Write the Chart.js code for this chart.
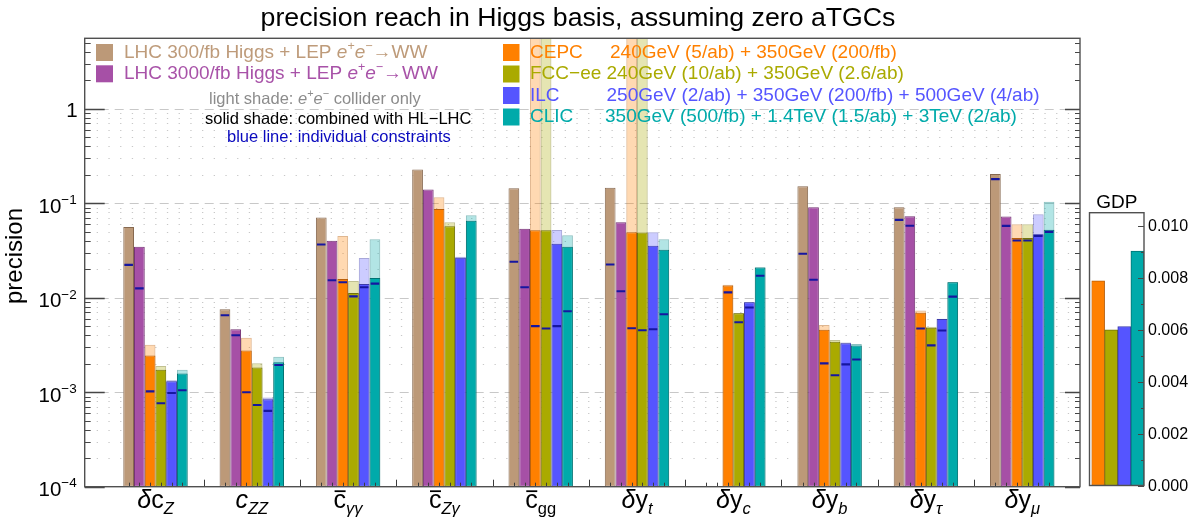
<!DOCTYPE html>
<html>
<head>
<meta charset="utf-8">
<script src="https://cdn.jsdelivr.net/npm/chart.js@4.4.1/dist/chart.umd.min.js"></script>
<style>
  html, body { margin: 0; padding: 0; background: #fff; }
  #wrap { position: relative; width: 1199px; height: 527px; overflow: hidden; }
  canvas { position: absolute; top: 0; }
  #main { left: 0; }
  #gdp { left: 1080px; }
</style>
</head>
<body>
<div id="wrap">
  <canvas id="main" width="1199" height="527"></canvas>
  <canvas id="gdp" width="119" height="527"></canvas>
</div>
<script>
// ---- data -------------------------------------------------------------
const categories = ['δcZ', 'cZZ', 'c̄γγ', 'c̄Zγ', 'c̄gg', 'δyt', 'δyc', 'δyb', 'δyτ', 'δyμ'];

// combined precision (solid shade); LHC-only rows have no e+e- part
const lhc300  = [0.0562, 0.00755, 0.0705, 0.228, 0.144, 0.146, null, 0.151, 0.0907, 0.204];
const lhc3000 = [0.0346, 0.00464, 0.0400, 0.140, 0.0536, 0.0630, null, 0.0907, 0.0729, 0.0722];
const cepc    = [0.00245, 0.00277, 0.0158, 0.0871, 0.0519, 0.0494, 0.0135, 0.00457, 0.00692, 0.0428];
const fccee   = [0.00173, 0.00183, 0.01124, 0.0572, 0.0517, 0.0490, 0.00685, 0.00342, 0.00480, 0.0428];
const ilc     = [0.00131, 0.000841, 0.0140, 0.0265, 0.0372, 0.0355, 0.00895, 0.00330, 0.00597, 0.0471];
const clic    = [0.00158, 0.00207, 0.0162, 0.0651, 0.0346, 0.0322, 0.0209, 0.00313, 0.01455, 0.0523];

// e+e- collider only (light shade); 10 = beyond the top of the axis
const cepcOnly  = [0.00318, 0.00377, 0.0449, 0.1156, 10, 10, 0.0137, 0.00516, 0.00731, 0.0600];
const fcceeOnly = [0.00189, 0.00203, 0.01504, 0.0630, 10, 10, 0.0069, 0.00356, 0.00492, 0.0600];
const ilcOnly   = [0.00134, 0.000877, 0.0263, 0.0272, 0.0520, 0.0494, 0.0090, 0.00335, 0.0060, 0.0765];
const clicOnly  = [0.00173, 0.00237, 0.0417, 0.0747, 0.0459, 0.0417, 0.0210, 0.00323, 0.0147, 0.104];

// individual constraints (blue lines)
const ind300  = [0.0223, 0.00653, 0.0366, null, 0.0240, 0.0225, null, 0.0292, 0.0667, 0.180];
const ind3000 = [0.01256, 0.00401, 0.0153, null, 0.0129, 0.0117, null, 0.0155, 0.0577, 0.0576];
const indCepc = [0.00102, 0.00100, 0.0146, null, 0.0050, 0.00476, 0.0114, 0.00202, 0.00472, 0.0403];
const indFcc  = [0.000764, 0.000733, 0.01035, null, 0.00472, 0.00453, 0.0055, 0.00151, 0.00313, 0.0403];
const indIlc  = [0.00098, 0.000634, 0.0129, null, 0.0050, 0.00464, 0.00787, 0.00197, 0.0045, 0.0452];
const indClic = [0.00105, 0.00194, 0.0141, null, 0.0072, 0.00668, 0.0171, 0.00222, 0.01028, 0.0498];

// global determinant parameter
const gdpLabels = ['CEPC', 'FCC-ee', 'ILC', 'CLIC'];
const gdpValues = [0.00788, 0.00599, 0.00612, 0.00902];

const yDecades = [-4, -3, -2, -1, 0];
const gdpTicks = [0, 0.002, 0.004, 0.006, 0.008, 0.010];

// ---- styling ----------------------------------------------------------
const FONT = '"Liberation Sans", Arial, Helvetica, sans-serif';
const CAT_PCT = 0.6687;
const LINE_BLUE = 'rgb(22,22,160)';

const series = [
  { stack: 's0', solid: lhc300,  ind: ind300,  fill: 'rgb(188,153,120)', edge: 'rgb(135,105,80)' },
  { stack: 's1', solid: lhc3000, ind: ind3000, fill: 'rgb(166,80,166)',  edge: 'rgb(115,50,115)' },
  { stack: 's2', solid: cepc,  only: cepcOnly,  ind: indCepc, fill: 'rgb(255,128,0)',  edge: 'rgb(185,95,10)',  light: 'rgba(255,128,0,0.3)', lightEdge: 'rgba(185,95,10,0.45)' },
  { stack: 's3', solid: fccee, only: fcceeOnly, ind: indFcc,  fill: 'rgb(170,170,0)',  edge: 'rgb(115,115,10)', light: 'rgba(170,170,0,0.3)', lightEdge: 'rgba(115,115,10,0.45)' },
  { stack: 's4', solid: ilc,   only: ilcOnly,   ind: indIlc,  fill: 'rgb(85,85,255)',  edge: 'rgb(60,60,170)',  light: 'rgba(85,85,255,0.3)', lightEdge: 'rgba(60,60,170,0.45)' },
  { stack: 's5', solid: clic,  only: clicOnly,  ind: indClic, fill: 'rgb(0,170,170)',  edge: 'rgb(0,115,115)',  light: 'rgba(0,170,170,0.3)', lightEdge: 'rgba(0,115,115,0.45)' }
];

const points = arr => arr.map((v, i) => ({ x: i, y: v }));
// a thin floating bar around each individual constraint value
const marker = arr => arr.map((v, i) => ({ x: i, y: v == null ? null : [v / 1.026, v * 1.026] }));

const datasets = [];
// blue lines first so they are painted last (on top)
series.forEach(s => datasets.push({
  data: marker(s.ind), stack: s.stack, backgroundColor: LINE_BLUE, borderWidth: 0,
  barPercentage: 0.8, categoryPercentage: CAT_PCT
}));
series.forEach(s => datasets.push({
  data: points(s.solid), stack: s.stack, backgroundColor: s.fill, borderColor: s.edge,
  borderWidth: 1, borderSkipped: false, barPercentage: 1, categoryPercentage: CAT_PCT
}));
series.filter(s => s.only).forEach(s => datasets.push({
  data: points(s.only), stack: s.stack, backgroundColor: s.light, borderColor: s.lightEdge,
  borderWidth: 1, borderSkipped: false, barPercentage: 1, categoryPercentage: CAT_PCT, clip: 0
}));

// ---- rich text helper (italic, super/subscripts, overbar) ------------
function partFont(size, p) {
  const st = p[1] || '';
  const small = /sup|sub/.test(st);
  const s = small ? size * 0.66 : size;
  return { font: (st.includes('i') ? 'italic ' : '') + s.toFixed(1) + 'px ' + FONT, size: s };
}
function drawRich(ctx, x, y, parts, size, color, align) {
  let total = 0;
  const widths = parts.map(p => { ctx.font = partFont(size, p).font; const w = ctx.measureText(p[0]).width; total += w; return w; });
  if (align === 'center') x -= total / 2;
  else if (align === 'right') x -= total;
  ctx.fillStyle = color;
  ctx.strokeStyle = color;
  ctx.textAlign = 'left';
  ctx.textBaseline = 'alphabetic';
  parts.forEach((p, k) => {
    const st = p[1] || '';
    ctx.font = partFont(size, p).font;
    let dy = 0;
    if (st.includes('sup')) dy = -size * 0.42;
    if (st.includes('sub')) dy = size * 0.24;
    ctx.fillText(p[0], x, y + dy);
    if (st.includes('bar')) {
      ctx.lineWidth = Math.max(1.2, size * 0.07);
      ctx.beginPath();
      const by = y - size * 0.66;
      ctx.moveTo(x + 1, by); ctx.lineTo(x + widths[k] - 0.5, by);
      ctx.stroke();
    }
    x += widths[k];
  });
  return total;
}

const xLabelParts = [
  [['δ', 'i'], ['c'], ['Z', 'isub']],
  [['c', 'i'], ['ZZ', 'isub']],
  [['c', 'bar'], ['γγ', 'isub']],
  [['c', 'bar'], ['Zγ', 'isub']],
  [['c', 'bar'], ['gg', 'sub']],
  [['δ', 'i'], ['y'], ['t', 'isub']],
  [['δ', 'i'], ['y'], ['c', 'isub']],
  [['δ', 'i'], ['y'], ['b', 'isub']],
  [['δ', 'i'], ['y'], ['τ', 'isub']],
  [['δ', 'i'], ['y'], ['μ', 'isub']]
];
const EE = [['e', 'i'], ['+', 'sup'], ['e', 'i'], ['−', 'sup']];

const mainDecor = {
  id: 'mainDecor',
  beforeDatasetsDraw(chart) {
    const { ctx, chartArea: a, scales: { y } } = chart;
    ctx.save();
    ctx.lineWidth = 1;
    // dotted minor grid
    ctx.strokeStyle = 'rgb(200,200,200)';
    ctx.setLineDash([1.3, 10.4]);
    for (let k = -4; k <= -1; k++) {
      for (let m = 2; m <= 9; m++) {
        const py = Math.round(y.getPixelForValue(m * Math.pow(10, k))) + 0.5;
        ctx.beginPath(); ctx.moveTo(a.left + 12, py); ctx.lineTo(a.right, py); ctx.stroke();
      }
    }
    // dashed decade grid
    ctx.strokeStyle = 'rgb(200,200,200)';
    ctx.setLineDash([9, 6]);
    yDecades.slice(1).forEach(k => {
      const py = Math.round(y.getPixelForValue(Math.pow(10, k))) + 0.5;
      ctx.beginPath(); ctx.moveTo(a.left, py); ctx.lineTo(a.right, py); ctx.stroke();
    });
    ctx.restore();
  },
  afterDatasetsDraw(chart) {
    const { ctx, chartArea: a, scales: { x, y } } = chart;
    ctx.save();
    ctx.strokeStyle = 'rgb(70,70,70)';
    ctx.lineWidth = 1;
    // ticks on left and right axes
    const yMax = y.max;
    for (let k = -4; k <= 0; k++) {
      for (let m = 1; m <= 9; m++) {
        const v = m * Math.pow(10, k);
        if (v > yMax) break;
        const py = Math.round(y.getPixelForValue(v)) + 0.5;
        const major = m === 1;
        ctx.lineWidth = major ? 1.6 : 1;
        ctx.beginPath();
        ctx.moveTo(a.left, py); ctx.lineTo(a.left + (major ? 20 : 6), py);
        ctx.moveTo(a.right, py); ctx.lineTo(a.right - (major ? 15 : 5), py);
        ctx.stroke();
      }
    }
    // ticks on bottom axis: category boundaries and bar slots
    ctx.lineWidth = 1;
    ctx.strokeStyle = 'rgb(60,60,60)';
    for (let i = 0; i < categories.length; i++) {
      if (i < categories.length - 1) {
        const px = Math.round(x.getPixelForValue(i + 0.5)) + 0.5;
        ctx.beginPath(); ctx.moveTo(px, a.bottom); ctx.lineTo(px, a.bottom - 7); ctx.stroke();
      }
      for (let s = 0; s < 6; s++) {
        const px = Math.round(x.getPixelForValue(i + (s - 2.5) * CAT_PCT / 6)) + 0.5;
        ctx.beginPath(); ctx.moveTo(px, a.bottom); ctx.lineTo(px, a.bottom - 4); ctx.stroke();
      }
    }
    // frame
    ctx.strokeStyle = 'rgb(80,80,80)';
    ctx.lineWidth = 1.4;
    ctx.strokeRect(a.left, a.top, a.right - a.left, a.bottom - a.top);

    // y tick labels
    yDecades.forEach(k => {
      const py = y.getPixelForValue(Math.pow(10, k));
      if (k === 0) drawRich(ctx, a.left - 7, py + 8.5, [['1']], 20.5, '#000', 'right');
      else drawRich(ctx, a.left - 8, py + 9.4, [['10'], ['−' + (-k), 'sup']], 20.5, '#000', 'right');
    });
    // y axis title
    ctx.save();
    ctx.translate(22, 256);
    ctx.rotate(-Math.PI / 2);
    ctx.font = '24px ' + FONT;
    ctx.fillStyle = '#000';
    ctx.textAlign = 'center';
    ctx.fillText('precision', 0, 0);
    ctx.restore();

    // category labels
    xLabelParts.forEach((parts, i) => {
      drawRich(ctx, x.getPixelForValue(i), a.bottom + 21, parts, 25, '#000', 'center');
    });

    // title
    ctx.font = '26.7px ' + FONT;
    ctx.fillStyle = '#000';
    ctx.textAlign = 'center';
    ctx.fillText('precision reach in Higgs basis, assuming zero aTGCs', 578, 26);

    // legend: LHC rows
    const lhcRows = [
      { txt: 'LHC 300/fb Higgs + LEP ', c: 'rgb(190,155,122)', sq: series[0].fill },
      { txt: 'LHC 3000/fb Higgs + LEP ', c: 'rgb(168,82,168)', sq: series[1].fill }
    ];
    lhcRows.forEach((r, k) => {
      const top = 44 + k * 21.3;
      ctx.fillStyle = r.sq; ctx.fillRect(96, top, 17, 17);
      drawRich(ctx, 124, top + 13.6, [[r.txt]].concat(EE, [['→WW']]), 19, r.c, 'left');
    });
    // legend: explanation of shades
    drawRich(ctx, 209, 104, [['light shade: ']].concat(EE, [[' collider only']]), 16.5, 'rgb(140,140,140)', 'left');
    drawRich(ctx, 205, 124, [['solid shade: combined with HL−LHC']], 16.5, '#000', 'left');
    drawRich(ctx, 227, 142, [['blue line: individual constraints']], 16.5, 'rgb(10,10,190)', 'left');
    // legend: future colliders
    const eeRows = [
      { name: 'CEPC',   desc: '240GeV (5/ab) + 350GeV (200/fb)', dx: 610, c: 'rgb(255,128,0)' },
      { name: 'FCC−ee', desc: '240GeV (10/ab) + 350GeV (2.6/ab)', dx: 606.5, c: 'rgb(170,170,0)' },
      { name: 'ILC',    desc: '250GeV (2/ab) + 350GeV (200/fb) + 500GeV (4/ab)', dx: 606.5, c: 'rgb(85,85,255)' },
      { name: 'CLIC',   desc: '350GeV (500/fb) + 1.4TeV (1.5/ab) + 3TeV (2/ab)', dx: 605, c: 'rgb(0,170,170)' }
    ];
    eeRows.forEach((r, k) => {
      const top = 44 + k * 21.5;
      ctx.fillStyle = series[k + 2].fill; ctx.fillRect(503, top, 16.5, 17);
      drawRich(ctx, 530, top + 13.6, [[r.name]], 19, r.c, 'left');
      drawRich(ctx, r.dx, top + 13.6, [[r.desc]], 19, r.c, 'left');
    });
    ctx.restore();
  }
};

Chart.defaults.font.family = FONT;

new Chart(document.getElementById('main'), {
  type: 'bar',
  data: { datasets },
  options: {
    responsive: false,
    animation: false,
    events: [],
    layout: { padding: { left: 84.7, right: 1199 - 1080, top: 38.3, bottom: 527 - 486.7 } },
    plugins: { legend: { display: false }, tooltip: { enabled: false } },
    scales: {
      x: {
        type: 'linear', min: -0.735, max: 9.6, bounds: 'data', offset: false, stacked: true, display: false,
        afterBuildTicks: s => { s.ticks = [{ value: s.min }, { value: s.max }]; }
      },
      y: { type: 'logarithmic', min: 1e-4, max: 5.57, bounds: 'data', stacked: false, display: false }
    }
  },
  plugins: [mainDecor]
});

// ---- GDP panel --------------------------------------------------------
const gdpDecor = {
  id: 'gdpDecor',
  afterDatasetsDraw(chart) {
    const { ctx, chartArea: a, scales: { y } } = chart;
    const left = 9.5;
    ctx.save();
    ctx.strokeStyle = 'rgb(70,70,70)';
    ctx.lineWidth = 1;
    for (let v = 0; v <= 0.0105; v += 0.001) {
      const py = Math.round(y.getPixelForValue(v)) + 0.5;
      const major = Math.abs(v / 0.002 - Math.round(v / 0.002)) < 1e-6;
      ctx.beginPath(); ctx.moveTo(a.right, py); ctx.lineTo(a.right - (major ? 6 : 3), py); ctx.stroke();
    }
    ctx.lineWidth = 1.4;
    ctx.strokeStyle = 'rgb(80,80,80)';
    ctx.strokeRect(left, a.top, a.right - left, a.bottom - a.top);
    ctx.fillStyle = '#000';
    ctx.font = '16px ' + FONT;
    ctx.textAlign = 'left';
    ctx.textBaseline = 'middle';
    gdpTicks.forEach(v => ctx.fillText(v.toFixed(3), a.right + 4, y.getPixelForValue(v) + 1));
    ctx.font = '19px ' + FONT;
    ctx.textAlign = 'center';
    ctx.textBaseline = 'alphabetic';
    ctx.fillText('GDP', (left + a.right) / 2, a.top - 5);
    ctx.restore();
  }
};

new Chart(document.getElementById('gdp'), {
  type: 'bar',
  data: {
    labels: gdpLabels,
    datasets: [{
      data: gdpValues,
      backgroundColor: series.slice(2).map(s => s.fill),
      borderColor: series.slice(2).map(s => s.edge),
      borderWidth: 1, borderSkipped: false,
      barPercentage: 1, categoryPercentage: 1
    }]
  },
  options: {
    responsive: false,
    animation: false,
    events: [],
    layout: { padding: { left: 11.5, right: 119 - 64, top: 212.7, bottom: 527 - 485.5 } },
    plugins: { legend: { display: false }, tooltip: { enabled: false } },
    scales: {
      x: { type: 'category', display: false, offset: true },
      y: { min: 0, max: 0.0105, display: false }
    }
  },
  plugins: [gdpDecor]
});
</script>
</body>
</html>
